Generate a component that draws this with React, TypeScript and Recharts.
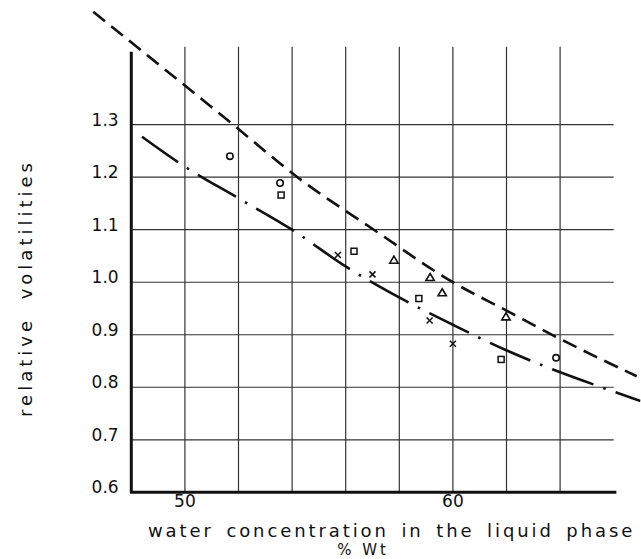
import React from 'react';
import { ComposedChart, Line, Scatter, XAxis, YAxis, ReferenceLine } from 'recharts';

// Axis ticks and grid positions
const xTicks = [50, 60];
const yTicks = [0.6, 0.7, 0.8, 0.9, 1.0, 1.1, 1.2, 1.3];
const gridX = [50, 52, 54, 56, 58, 60, 62, 64];
const gridY = [0.7, 0.8, 0.9, 1.0, 1.1, 1.2, 1.3];

// Dashed curve
const dashedX = [46.58, 51.8, 54.2, 57.05, 60, 62, 64, 66.86];
const dashedY = [1.515, 1.3, 1.2, 1.1, 1.0, 0.946, 0.892, 0.821];

// Dash-dot curve
const dashDotX = [48.4, 50, 52, 54, 55.97, 57.96, 60, 61.97, 63.93, 65.49, 67.0];
const dashDotY = [1.277, 1.22, 1.16, 1.1, 1.031, 0.972, 0.919, 0.871, 0.83, 0.801, 0.774];

// Experimental points
const circleX = [51.68, 53.55, 63.85];
const circleY = [1.24, 1.189, 0.856];
const squareX = [53.59, 56.31, 58.73, 61.8];
const squareY = [1.166, 1.059, 0.969, 0.853];
const triangleX = [57.8, 59.15, 59.6, 61.98];
const triangleY = [1.042, 1.009, 0.98, 0.934];
const crossX = [55.71, 57.0, 59.13, 60.0];
const crossY = [1.052, 1.015, 0.927, 0.883];

const zip = (xs: number[], ys: number[]) => xs.map((x, i) => ({ x, y: ys[i] }));

const INK = '#111';
const FONT = '"DejaVu Sans", sans-serif';

const CircleMark = (p: any) => (
  <circle cx={p.cx} cy={p.cy} r={3.2} fill="#fff" stroke={INK} strokeWidth={1.6} />
);
const SquareMark = (p: any) => (
  <rect x={p.cx - 3} y={p.cy - 3} width={6} height={6} fill="#fff" stroke={INK} strokeWidth={1.5} />
);
const TriangleMark = (p: any) => (
  <path
    d={`M${p.cx},${p.cy - 4} L${p.cx + 4.2},${p.cy + 3} L${p.cx - 4.2},${p.cy + 3} Z`}
    fill="#fff"
    stroke={INK}
    strokeWidth={1.6}
  />
);
const CrossMark = (p: any) => (
  <path
    d={`M${p.cx - 3},${p.cy - 3} L${p.cx + 3},${p.cy + 3} M${p.cx + 3},${p.cy - 3} L${p.cx - 3},${p.cy + 3}`}
    stroke={INK}
    strokeWidth={1.5}
    fill="none"
  />
);

const YTick = (p: any) => {
  const v = p.payload && typeof p.payload.value === 'number' ? p.payload.value : 0;
  return (
    <text
      x={p.x + 0.5}
      y={p.y + 1}
      textAnchor="start"
      fontFamily={FONT}
      fontSize={17}
      fill={INK}
    >
      {v.toFixed(1)}
    </text>
  );
};

export default function App() {
  const dashed = zip(dashedX, dashedY);
  const dashDot = zip(dashDotX, dashDotY);
  return (
    <div style={{ position: 'absolute', left: 0, top: 0, width: 641, height: 559, background: '#fff' }}>
      <ComposedChart
        width={641}
        height={559}
        margin={{ top: 3.9, right: 0.5, bottom: 36.7, left: 90.1 }}
      >
        <XAxis
          type="number"
          dataKey="x"
          domain={[46.5, 67]}
          allowDataOverflow
          ticks={xTicks}
          interval={0}
          axisLine={false}
          tickLine={false}
          tickSize={0}
          tickMargin={3}
          height={30}
          tick={{ fontSize: 17, fontFamily: FONT, fill: INK }}
        />
        <YAxis
          type="number"
          dataKey="y"
          domain={[0.6, 1.53]}
          allowDataOverflow
          ticks={yTicks}
          interval={0}
          width={1}
          axisLine={false}
          tickLine={false}
          tickSize={0}
          tickMargin={0}
          tick={YTick}
        />
        {gridX.map((gx) => (
          <ReferenceLine
            key={`gx${gx}`}
            segment={[{ x: gx, y: 0.6 }, { x: gx, y: 1.4485 }]}
            stroke="#333"
            strokeWidth={1.2}
          />
        ))}
        {gridY.map((gy) => (
          <ReferenceLine
            key={`gy${gy}`}
            segment={[{ x: 48, y: gy }, { x: 66, y: gy }]}
            stroke="#333"
            strokeWidth={1.2}
          />
        ))}
        <ReferenceLine segment={[{ x: 48, y: 0.6 }, { x: 48, y: 1.439 }]} stroke={INK} strokeWidth={3} />
        <ReferenceLine segment={[{ x: 47.95, y: 0.6 }, { x: 66.1, y: 0.6 }]} stroke={INK} strokeWidth={3} />
        <Line
          data={dashed}
          dataKey="y"
          type="monotone"
          stroke={INK}
          strokeWidth={2.6}
          strokeDasharray="15 8"
          dot={false}
          activeDot={false}
          isAnimationActive={false}
        />
        <Line
          data={dashDot}
          dataKey="y"
          type="monotone"
          stroke={INK}
          strokeWidth={2.6}
          strokeDasharray="44 10.5 2.5 10.5"
          dot={false}
          activeDot={false}
          isAnimationActive={false}
        />
        <Scatter data={zip(circleX, circleY)} dataKey="y" shape={CircleMark} isAnimationActive={false} />
        <Scatter data={zip(squareX, squareY)} dataKey="y" shape={SquareMark} isAnimationActive={false} />
        <Scatter data={zip(triangleX, triangleY)} dataKey="y" shape={TriangleMark} isAnimationActive={false} />
        <Scatter data={zip(crossX, crossY)} dataKey="y" shape={CrossMark} isAnimationActive={false} />
      </ComposedChart>
      <svg
        width={641}
        height={559}
        style={{ position: 'absolute', left: 0, top: 0, pointerEvents: 'none' }}
      >
        <text
          x={32}
          y={288}
          transform="rotate(-90 32 288)"
          textAnchor="middle"
          fontFamily={FONT}
          fontSize={18}
          letterSpacing={4}
          wordSpacing={8}
          fill={INK}
        >
          relative volatilities
        </text>
        <text
          x={148}
          y={537}
          fontFamily={FONT}
          fontSize={18}
          letterSpacing={2.9}
          wordSpacing={4}
          fill={INK}
        >
          water concentration in the liquid phase
        </text>
        <text
          x={363}
          y={555}
          textAnchor="middle"
          fontFamily={FONT}
          fontSize={15}
          letterSpacing={3}
          fill={INK}
        >
          % Wt
        </text>
      </svg>
    </div>
  );
}
